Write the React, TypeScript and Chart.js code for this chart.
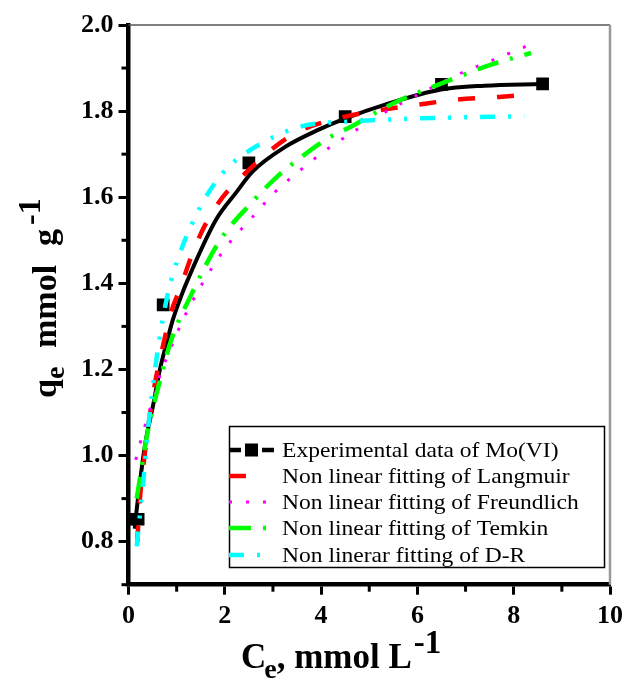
import React, { useEffect, useRef } from "react";
import { Chart, registerables } from "chart.js";

Chart.register(...registerables);

// ---------------- data ----------------
const expX = [0.08, 0.2, 0.72, 2.5, 4.5, 6.5, 8.6];
const expY = [0.852, 0.852, 1.35, 1.68, 1.787, 1.862, 1.863];

const fitX = [0.13, 0.17, 0.34, 0.52, 0.65, 0.79, 0.92, 1.09, 1.23, 1.82, 2.23, 2.58, 3.27, 3.95, 4.48, 5.33, 6.49, 7.39, 8.58];
const fitY = [0.83, 0.874, 1.022, 1.122, 1.199, 1.261, 1.315, 1.369, 1.408, 1.548, 1.61, 1.66, 1.718, 1.757, 1.782, 1.815, 1.85, 1.859, 1.863];

const langX = [0.18, 0.24, 0.34, 0.44, 0.55, 0.72, 0.89, 1.06, 1.4, 1.82, 2.58, 3.4, 4.23, 5.12, 6.02, 6.84, 7.7, 8.3];
const langY = [0.798, 0.904, 1.006, 1.09, 1.168, 1.257, 1.335, 1.385, 1.49, 1.579, 1.672, 1.745, 1.78, 1.8, 1.815, 1.827, 1.833, 1.838];

const freX = [0.15, 0.27, 0.41, 0.51, 0.65, 0.86, 1.13, 1.48, 2.0, 2.68, 2.99, 3.33, 3.68, 4.02, 4.37, 4.74, 5.43, 6.15, 6.84, 7.6, 8.29];
const freY = [0.99, 1.04, 1.095, 1.13, 1.185, 1.245, 1.315, 1.389, 1.48, 1.567, 1.606, 1.641, 1.673, 1.703, 1.73, 1.757, 1.804, 1.846, 1.885, 1.92, 1.952];

const temX = [0.17, 0.38, 0.62, 0.89, 1.3, 1.9, 2.58, 3.06, 3.61, 4.16, 4.64, 5.19, 5.67, 6.7, 7.53, 8.36];
const temY = [0.9, 1.044, 1.16, 1.269, 1.373, 1.5, 1.59, 1.645, 1.695, 1.738, 1.765, 1.8, 1.827, 1.873, 1.908, 1.935];

const drX = [0.17, 0.24, 0.31, 0.41, 0.55, 0.65, 0.79, 0.89, 1.1, 1.48, 1.82, 2.09, 2.71, 3.61, 4.64, 6.02, 8.22];
const drY = [0.789, 0.866, 0.943, 1.067, 1.199, 1.277, 1.362, 1.408, 1.48, 1.575, 1.637, 1.672, 1.722, 1.765, 1.776, 1.783, 1.788];

const xTicks = [0, 2, 4, 6, 8, 10];
const yTicks = [0.8, 1.0, 1.2, 1.4, 1.6, 1.8, 2.0];
const xMinor = [1, 3, 5, 7, 9];
const yMinor = [0.7, 0.9, 1.1, 1.3, 1.5, 1.7, 1.9];

const legendLabels = [
  "Experimental data of Mo(VI)",
  "Non linear fitting of Langmuir",
  "Non linear fitting of Freundlich",
  "Non linear fitting of Temkin",
  "Non linerar fitting of D-R",
];

const SERIF = "'Times New Roman', 'Liberation Serif', 'DejaVu Serif', serif";

const zip = (xs: number[], ys: number[]) => xs.map((x, i) => ({ x, y: ys[i] }));

const curveStyles = [
  { color: "#ff0000", width: 4.5, dash: [17, 22] },
  { color: "#ff00ff", width: 3, dash: [3, 14] },
  { color: "#00ff00", width: 4.5, dash: [22, 12, 3, 12] },
  { color: "#00ffff", width: 4.5, dash: [15, 13, 3, 13, 3, 13] },
];

const overlayPlugin = {
  id: "overlay",
  afterDraw(chart: any) {
    const { ctx, chartArea } = chart;
    const xs = chart.scales.x;
    const ys = chart.scales.y;
    ctx.save();
    // top & right frame
    ctx.setLineDash([]);
    ctx.strokeStyle = "#555";
    ctx.lineWidth = 1.5;
    ctx.beginPath();
    ctx.moveTo(chartArea.left, chartArea.top);
    ctx.lineTo(chartArea.right, chartArea.top);
    ctx.stroke();
    ctx.strokeStyle = "#999";
    ctx.lineWidth = 2.5;
    ctx.beginPath();
    ctx.moveTo(chartArea.right, chartArea.top);
    ctx.lineTo(chartArea.right, chartArea.bottom);
    ctx.stroke();

    // minor ticks
    ctx.strokeStyle = "#000";
    ctx.lineWidth = 3;
    xMinor.forEach((v) => {
      const px = xs.getPixelForValue(v);
      ctx.beginPath();
      ctx.moveTo(px, chartArea.bottom);
      ctx.lineTo(px, chartArea.bottom + 7);
      ctx.stroke();
    });
    yMinor.forEach((v) => {
      const py = ys.getPixelForValue(v);
      ctx.beginPath();
      ctx.moveTo(chartArea.left, py);
      ctx.lineTo(chartArea.left - 7, py);
      ctx.stroke();
    });

    // x axis title
    ctx.fillStyle = "#000";
    ctx.textBaseline = "alphabetic";
    ctx.textAlign = "left";
    const xb = 668;
    let cx = 241;
    ctx.font = `bold 35px ${SERIF}`;
    ctx.fillText("C", cx, xb);
    cx += ctx.measureText("C").width - 2;
    ctx.font = `bold 28px ${SERIF}`;
    ctx.fillText("e", cx, xb + 10);
    cx += ctx.measureText("e").width;
    ctx.font = `bold 35px ${SERIF}`;
    ctx.fillText(", mmol L", cx, xb);
    cx += ctx.measureText(", mmol L").width + 2;
    ctx.font = `bold 33px ${SERIF}`;
    ctx.fillText("-1", cx, xb - 15);

    // y axis title (rotated)
    ctx.save();
    ctx.translate(56, 398);
    ctx.rotate(-Math.PI / 2);
    ctx.font = `bold 34px ${SERIF}`;
    ctx.fillText("q", 0, 0);
    const qw = ctx.measureText("q").width;
    ctx.font = `bold 28px ${SERIF}`;
    ctx.fillText("e", qw, 8);
    ctx.font = `bold 34px ${SERIF}`;
    ctx.fillText("mmol", 50, 0);
    ctx.fillText("g", 152, 0);
    ctx.font = `bold 32px ${SERIF}`;
    ctx.fillText("-1", 173, -16);
    ctx.restore();

    // legend
    const bx = 229.5, by = 426.5, bw = 375, bh = 141;
    ctx.fillStyle = "#fff";
    ctx.fillRect(bx, by, bw, bh);
    ctx.strokeStyle = "#000";
    ctx.lineWidth = 1.5;
    ctx.setLineDash([]);
    ctx.strokeRect(bx, by, bw, bh);
    const rows = [450, 476, 502, 528, 555];
    ctx.textBaseline = "middle";
    ctx.fillStyle = "#000";
    rows.forEach((ry, i) => {
      ctx.save();
      ctx.translate(282, ry + 1);
      ctx.scale(1.07, 1);
      ctx.font = `22px ${SERIF}`;
      ctx.fillText(legendLabels[i], 0, 0);
      ctx.restore();
      if (i === 0) {
        ctx.strokeStyle = "#000";
        ctx.lineWidth = 4.5;
        ctx.setLineDash([]);
        ctx.beginPath();
        ctx.moveTo(229, ry);
        ctx.lineTo(241, ry);
        ctx.moveTo(262, ry);
        ctx.lineTo(274, ry);
        ctx.stroke();
        ctx.fillRect(245, ry - 6.5, 13, 13);
      } else {
        const st = curveStyles[i - 1];
        ctx.strokeStyle = st.color;
        ctx.lineWidth = st.width;
        ctx.setLineDash(st.dash);
        ctx.beginPath();
        ctx.moveTo(229, ry);
        ctx.lineTo(i === 1 ? 262 : 269, ry);
        ctx.stroke();
      }
    });
    ctx.restore();
  },
};

export default function App() {
  const ref = useRef<HTMLCanvasElement | null>(null);

  useEffect(() => {
    const canvas = ref.current;
    if (!canvas) return;
    const curveBase = {
      showLine: true,
      pointRadius: 0,
      pointHoverRadius: 0,
      cubicInterpolationMode: "monotone" as const,
      fill: false,
    };
    const curves = [
      { data: zip(langX, langY), label: legendLabels[1], order: 3 },
      { data: zip(freX, freY), label: legendLabels[2], order: 2 },
      { data: zip(temX, temY), label: legendLabels[3], order: 1 },
      { data: zip(drX, drY), label: legendLabels[4], order: 0 },
    ].map((d, i) => ({
      ...curveBase,
      ...d,
      borderColor: curveStyles[i].color,
      backgroundColor: curveStyles[i].color,
      borderWidth: curveStyles[i].width,
      borderDash: curveStyles[i].dash,
    }));

    const tickFont = { family: SERIF, size: 26, weight: "bold" as const };
    const gridOpts = {
      display: true,
      drawOnChartArea: false,
      drawTicks: true,
      tickLength: 10,
      tickWidth: 3,
      tickColor: "#000",
      color: "#000",
    };
    const chart = new Chart(canvas, {
      type: "scatter",
      data: {
        datasets: [
          ...curves,
          {
            label: legendLabels[0],
            data: zip(expX, expY),
            showLine: false,
            pointStyle: "rect",
            pointRadius: 9,
            pointHoverRadius: 9,
            backgroundColor: "#000",
            borderColor: "#000",
            borderWidth: 0,
            order: 4,
          },
          {
            ...curveBase,
            label: "fit",
            data: zip(fitX, fitY),
            borderColor: "#000",
            backgroundColor: "#000",
            borderWidth: 4,
            order: 5,
          },
        ] as any,
      },
      options: {
        responsive: false,
        animation: false,
        devicePixelRatio: 1,
        layout: { padding: { top: 25, right: 16, left: 0, bottom: 0 } },
        plugins: { legend: { display: false }, tooltip: { enabled: false } },
        events: [],
        scales: {
          x: {
            type: "linear",
            min: 0,
            max: 10,
            afterBuildTicks: (s: any) => {
              s.ticks = xTicks.map((v) => ({ value: v }));
            },
            afterFit: (s: any) => {
              s.height = 99.3;
            },
            ticks: {
              font: tickFont,
              color: "#000",
              padding: 6,
              maxRotation: 0,
              callback: (v: any) => String(v),
            },
            grid: gridOpts,
            border: { display: true, color: "#000", width: 4.5 },
          },
          y: {
            type: "linear",
            min: 0.7,
            max: 2.0,
            afterBuildTicks: (s: any) => {
              s.ticks = yTicks.map((v) => ({ value: v }));
            },
            afterFit: (s: any) => {
              s.width = 128.5;
            },
            ticks: {
              font: tickFont,
              color: "#000",
              padding: 5,
              callback: (v: any) => Number(v).toFixed(1),
            },
            grid: gridOpts,
            border: { display: true, color: "#000", width: 4.5 },
          },
        },
      },
      plugins: [overlayPlugin],
    });
    return () => chart.destroy();
  }, []);

  return (
    <div style={{ position: "absolute", left: 0, top: 0, width: 629, height: 684, background: "#fff" }}>
      <canvas ref={ref} width={629} height={684} style={{ display: "block", width: 629, height: 684 }} />
    </div>
  );
}
